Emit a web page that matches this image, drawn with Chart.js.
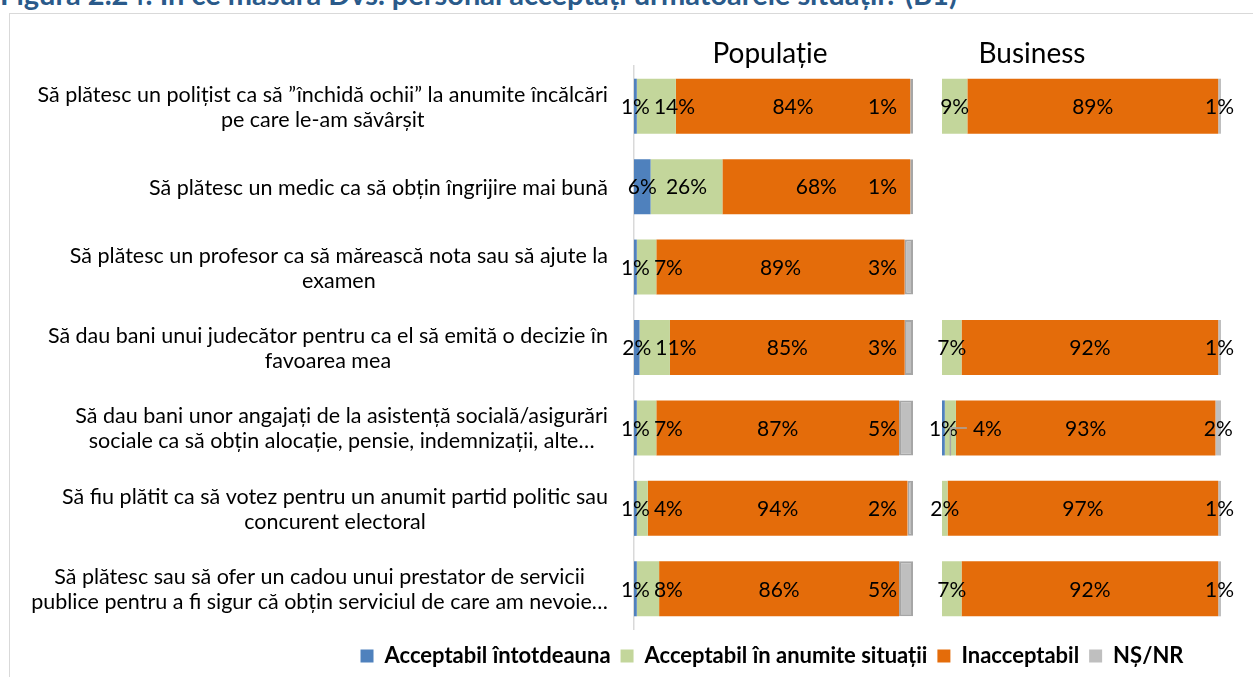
<!DOCTYPE html>
<html><head><meta charset="utf-8">
<script src="https://cdn.jsdelivr.net/npm/chart.js@4.4.1/dist/chart.umd.min.js"></script>
<style>
html,body{margin:0;padding:0;background:#fff;width:1253px;height:677px;overflow:hidden;font-family:Lato,sans-serif}
#frame{position:absolute;left:9px;top:13px;width:1300px;height:720px;border:1px solid #d9d9d9;box-sizing:border-box}
#title{position:absolute;left:0;top:-21.5px;font:bold 29px Lato;line-height:1;color:#2a5a8a;white-space:nowrap}
canvas{position:absolute;left:0;top:0}
.pt{position:absolute;font:28px Lato;line-height:1;color:#000;white-space:nowrap;transform:translateX(-50%)}
</style></head>
<body>
<div id="frame"></div>
<div id="title">Figura 2.24: În ce măsură Dvs. personal acceptați următoarele situații? (B1)</div>
<canvas id="pop" width="1253" height="677"></canvas>
<canvas id="biz" width="1253" height="677"></canvas>
<div class="pt" style="left:770px;top:38px">Populație</div>
<div class="pt" style="left:1032px;top:38px">Business</div>
<script>
const categories = [
  ["Să plătesc un polițist ca să ”închidă ochii” la anumite încălcări","pe care le-am săvârșit"],
  ["Să plătesc un medic ca să obțin îngrijire mai bună"],
  ["Să plătesc un profesor ca să mărească nota sau să ajute la","examen"],
  ["Să dau bani unui judecător pentru ca el să emită o decizie în","favoarea mea"],
  ["Să dau bani unor angajați de la asistență socială/asigurări","sociale ca să obțin alocație, pensie, indemnizații, alte…"],
  ["Să fiu plătit ca să votez pentru un anumit partid politic sau","concurent electoral"],
  ["Să plătesc sau să ofer un cadou unui prestator de servicii","publice pentru a fi sigur că obțin serviciul de care am nevoie…"]
];
const seriesNames = ["Acceptabil întotdeauna","Acceptabil în anumite situații","Inacceptabil","NȘ/NR"];
const popAlways = [1,6,1,2,1,1,1];
const popSome   = [14,26,7,11,7,4,8];
const popNo     = [84,68,89,85,87,94,86];
const popNsnr   = [1,1,3,3,5,2,5];
const bizAlways = [0,null,null,0,1,0,0];
const bizSome   = [9,null,null,7,4,2,7];
const bizNo     = [89,null,null,92,93,97,92];
const bizNsnr   = [1,null,null,1,2,1,1];

const colors = ['#4f81bd','#c3d69b','#e46c0a','#bfbfbf'];

function normalize(series){
  const n = series[0].length;
  const out = series.map(()=>[]);
  for(let i=0;i<n;i++){
    let tot=0, any=false;
    series.forEach(s=>{ if(s[i]!=null){tot+=s[i]; any=true;} });
    series.forEach((s,k)=>{ out[k].push(any&&tot>0 && s[i]!=null ? s[i]/tot*100 : null); });
  }
  return out;
}

function makeDatasets(raw, grayBorder){
  const norm = normalize(raw);
  return norm.map((d,k)=>({
    label: seriesNames[k],
    data: d,
    backgroundColor: colors[k],
    borderColor: (k===3 && grayBorder) ? '#a6a6a6' : colors[k],
    borderWidth: (k===3 && grayBorder) ? 2 : 0,
    borderSkipped: false,
    barPercentage: 0.684,
    categoryPercentage: 1
  }));
}

function labelPlugin(raw, cfg){
  return {id:'segLabels', afterDatasetsDraw(chart){
    const ctx = chart.ctx; ctx.save();
    ctx.font = '21px Lato'; ctx.fillStyle = '#000'; ctx.textBaseline = 'middle';
    const xs = chart.scales.x;
    const n = raw[0].length;
    for(let i=0;i<n;i++){
      let prevRight = -Infinity;
      for(let d=0; d<raw.length; d++){
        const v = raw[d][i];
        if(v==null || v===0) continue;
        const el = chart.getDatasetMeta(d).data[i];
        const x0 = Math.min(el.base, el.x), x1 = Math.max(el.base, el.x), y = el.y;
        const txt = v + '%';
        const w = ctx.measureText(txt).width;
        let cx = (x0+x1)/2;
        if(d===3 && cfg.grayRight){
          cx = xs.getPixelForValue(100) - cfg.grayRight - w/2;
        } else if(cx - w/2 < prevRight + cfg.gap){
          const nx = prevRight + cfg.gap + w/2;
          if(cfg.leader){
            ctx.save();
            ctx.strokeStyle = '#a6a6a6'; ctx.lineWidth = 1.5;
            ctx.beginPath();
            ctx.moveTo(nx - w/2 - 6, y);
            ctx.lineTo(cx, y);
            ctx.lineTo(cx, y + el.height/2);
            ctx.stroke();
            ctx.restore();
          }
          cx = nx;
        }
        ctx.textAlign = 'center';
        ctx.fillText(txt, cx, y + 1);
        prevRight = cx + w/2;
      }
    }
    ctx.restore();
  }};
}

const catPlugin = {id:'catLabels', afterDraw(chart){
  const ctx = chart.ctx, ys = chart.scales.y;
  ctx.save();
  ctx.font = '21.5px Lato'; ctx.fillStyle = '#000';
  ctx.textBaseline = 'middle'; ctx.textAlign = 'center';
  const right = chart.chartArea.left - 26, lh = 25;
  categories.forEach((lines,i)=>{
    const cy = ys.getPixelForValue(i);
    const maxW = Math.max(...lines.map(l=>ctx.measureText(l).width));
    const cx = right - maxW/2;
    lines.forEach((l,j)=>{
      ctx.fillText(l, cx, cy + (j-(lines.length-1)/2)*lh + 1);
    });
  });
  ctx.restore();
}};

const popRaw = [popAlways, popSome, popNo, popNsnr];
const bizRaw = [bizAlways, bizSome, bizNo, bizNsnr];
const catNames = categories.map(l=>l.join(' '));

const W = 1253, padL = 291;
const pop = new Chart(document.getElementById('pop'), {
  type: 'bar',
  data: {labels: catNames, datasets: makeDatasets(popRaw, true)},
  options: {
    responsive: false, animation: false, indexAxis: 'y',
    layout: {padding: {left: padL, right: 0, top: 66, bottom: 0}},
    scales: {
      x: {stacked: true, min: 0, max: 100, position: 'bottom',
          ticks: {display: false}, grid: {display: false}, border: {display: false},
          afterFit: s => { s.height = 6; }},
      y: {stacked: true, ticks: {display: false}, grid: {display: false},
          border: {display: true, color: '#d9d9d9', width: 1.5},
          afterFit: s => { s.width = 634 - padL; }},
      r: {type: 'linear', position: 'right', ticks: {display: false}, grid: {display: false},
          border: {display: false}, afterFit: s => { s.width = W - 913; }}
    },
    plugins: {
      tooltip: {enabled: false},
      legend: {position: 'bottom', align: 'center',
        labels: {boxWidth: 13, boxHeight: 13, padding: 10, color: '#000',
          font: {family: 'Lato', size: 22, weight: 'bold'},
          generateLabels: (chart) => Chart.defaults.plugins.legend.labels.generateLabels(chart)
            .map(it => Object.assign(it, {lineWidth: 0, strokeStyle: 'rgba(0,0,0,0)'}))
        }}
    }
  },
  plugins: [labelPlugin(popRaw, {gap: 4, grayRight: 16, leader: false}), catPlugin]
});

const ca = pop.chartArea;
new Chart(document.getElementById('biz'), {
  type: 'bar',
  data: {labels: catNames, datasets: makeDatasets(bizRaw, false)},
  options: {
    responsive: false, animation: false, indexAxis: 'y',
    layout: {padding: {left: 942, right: W - 1221, top: ca.top, bottom: 677 - ca.bottom}},
    scales: {
      x: {stacked: true, min: 0, max: 100, display: false},
      y: {stacked: true, display: false}
    },
    plugins: {tooltip: {enabled: false}, legend: {display: false}}
  },
  plugins: [labelPlugin(bizRaw, {gap: 15, grayRight: 0, leader: true})]
});
</script>
</body></html>
